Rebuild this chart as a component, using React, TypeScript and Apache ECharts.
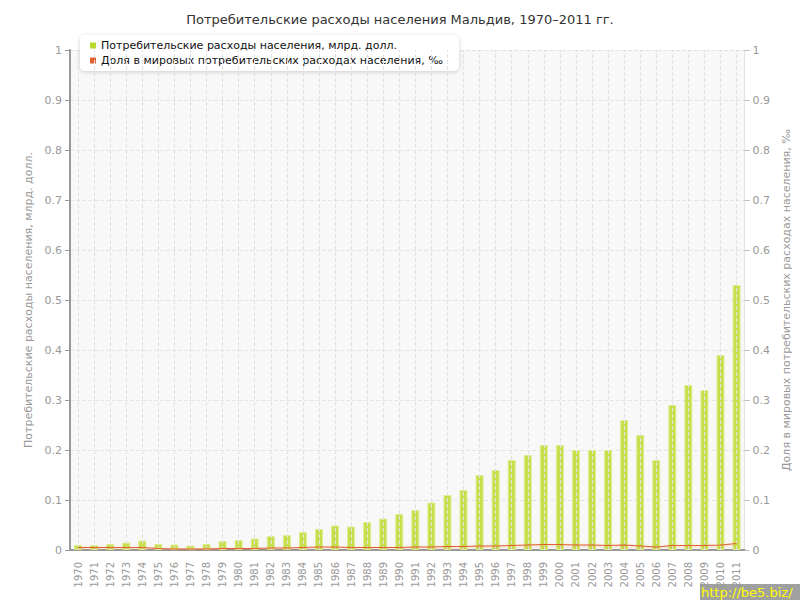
import React, { useEffect, useRef } from "react";
import * as echarts from "echarts";

const years = [
  "1970","1971","1972","1973","1974","1975","1976","1977","1978","1979",
  "1980","1981","1982","1983","1984","1985","1986","1987","1988","1989",
  "1990","1991","1992","1993","1994","1995","1996","1997","1998","1999",
  "2000","2001","2002","2003","2004","2005","2006","2007","2008","2009",
  "2010","2011",
];

const spending = [
  0.01, 0.01, 0.012, 0.015, 0.019, 0.012, 0.011, 0.009, 0.012, 0.018,
  0.02, 0.023, 0.028, 0.03, 0.036, 0.042, 0.049, 0.047, 0.056, 0.063,
  0.072, 0.08, 0.095, 0.11, 0.12, 0.15, 0.16, 0.18, 0.19, 0.21,
  0.21, 0.2, 0.2, 0.2, 0.26, 0.23, 0.18, 0.29, 0.33, 0.32,
  0.39, 0.53,
];

const worldShare = [
  0.005, 0.005, 0.005, 0.005, 0.005, 0.003, 0.002, 0.002, 0.002, 0.003,
  0.003, 0.003, 0.004, 0.004, 0.005, 0.006, 0.006, 0.005, 0.005, 0.005,
  0.005, 0.006, 0.006, 0.007, 0.007, 0.008, 0.008, 0.009, 0.01, 0.011,
  0.011, 0.01, 0.01, 0.009, 0.01, 0.008, 0.006, 0.009, 0.009, 0.009,
  0.01, 0.013,
];

const titleText = "Потребительские расходы населения Мальдив, 1970–2011 гг.";
const seriesNames = [
  "Потребительские расходы населения, млрд. долл.",
  "Доля в мировых потребительских расходах населения, ‰",
];

const FONT = "DejaVu Sans";

export default function App() {
  const ref = useRef<HTMLDivElement>(null);
  useEffect(() => {
    if (!ref.current) return;
    const chart = echarts.init(ref.current, null, { renderer: "svg" });
    const iconStyle = (color: string) => ({
      color,
      borderWidth: 0,
      shadowBlur: 0,
      shadowColor: "transparent",
      shadowOffsetY: 0,
    });
    chart.setOption({
      animation: false,
      backgroundColor: "#ffffff",
      textStyle: { fontFamily: FONT },
      title: {
        text: titleText,
        left: "center",
        top: 8,
        textStyle: { fontFamily: FONT, fontSize: 13, fontWeight: "normal", color: "#333" },
      },
      legend: {
        orient: "vertical",
        left: 80,
        top: 35,
        padding: [5, 16, 5, 10],
        itemGap: 4,
        itemWidth: 6,
        itemHeight: 6,
        icon: "rect",
        backgroundColor: "#ffffff",
        borderRadius: 5,
        shadowBlur: 4,
        shadowColor: "rgba(0,0,0,0.18)",
        shadowOffsetY: 1,
        textStyle: { fontFamily: FONT, fontSize: 11, color: "#111" },
        data: [
          { name: seriesNames[0], icon: "rect", itemStyle: iconStyle("#b8d82e") },
          { name: seriesNames[1], icon: "rect", itemStyle: iconStyle("#e06030") },
        ],
      },
      grid: {
        left: 70,
        right: 50,
        top: 50,
        bottom: 50,
        show: true,
        backgroundColor: "#f8f8f8",
        borderWidth: 0,
      },
      xAxis: {
        type: "category",
        data: years,
        boundaryGap: true,
        axisLine: { lineStyle: { color: "#999", width: 2 } },
        axisTick: { alignWithLabel: true, interval: 0, length: 5, lineStyle: { color: "#999" } },
        axisLabel: {
          interval: 0,
          rotate: 90,
          margin: 12,
          color: "#999",
          fontSize: 10,
          fontFamily: FONT,
        },
        splitLine: { show: false },
      },
      yAxis: [
        {
          type: "value",
          min: 0,
          max: 1,
          interval: 0.1,
          name: seriesNames[0],
          nameLocation: "middle",
          nameRotate: 90,
          nameGap: 31,
          nameTextStyle: { color: "#999", fontSize: 11, fontFamily: FONT },
          axisLine: { show: true, lineStyle: { color: "#999", width: 2 } },
          axisTick: { show: true, length: 5, lineStyle: { color: "#999" } },
          axisLabel: { color: "#999", fontSize: 11, fontFamily: FONT, margin: 8 },
          splitLine: { show: true, lineStyle: { color: "#e4e4e4", type: "dashed" } },
        },
        {
          type: "value",
          min: 0,
          max: 1,
          interval: 0.1,
          position: "right",
          name: seriesNames[1],
          nameLocation: "middle",
          nameRotate: 90,
          nameGap: 31,
          nameTextStyle: { color: "#999", fontSize: 11, fontFamily: FONT },
          axisLine: { show: true, lineStyle: { color: "#e2e2e2", width: 1 } },
          axisTick: { show: true, length: 5, lineStyle: { color: "#bbb" } },
          axisLabel: { color: "#999", fontSize: 11, fontFamily: FONT, margin: 8 },
          splitLine: { show: false },
        },
      ],
      series: [
        {
          name: seriesNames[0],
          type: "bar",
          data: spending,
          barWidth: 8,
          itemStyle: {
            color: "#c6e04c",
            borderColor: "#dcee92",
            borderWidth: 1,
          },
          markLine: {
            silent: true,
            symbol: ["none", "none"],
            label: { show: false },
            lineStyle: { color: "#e2e2e2", type: "dashed", width: 1 },
            z: 5,
            data: years.map((y) => ({ xAxis: y })),
          },
        },
        {
          name: seriesNames[1],
          type: "line",
          yAxisIndex: 1,
          data: worldShare,
          symbol: "none",
          legendIcon: "rect",
          z: 6,
          lineStyle: {
            color: "#e06030",
            width: 1.2,
            shadowColor: "rgba(230,110,60,0.45)",
            shadowBlur: 3,
            shadowOffsetY: 1,
          },
          itemStyle: { color: "#e06030" },
        },
      ],
      graphic: [
        {
          type: "rect",
          left: 700,
          top: 584,
          shape: { width: 100, height: 16 },
          style: { fill: "#a0a0a0" },
        },
        {
          type: "text",
          left: 701,
          top: 586,
          style: { text: "http://be5.biz/", fill: "#ffff00", fontSize: 13, fontFamily: FONT },
        },
      ],
    });
    return () => chart.dispose();
  }, []);
  return <div ref={ref} style={{ width: 800, height: 600, position: "absolute", left: 0, top: 0 }} />;
}
